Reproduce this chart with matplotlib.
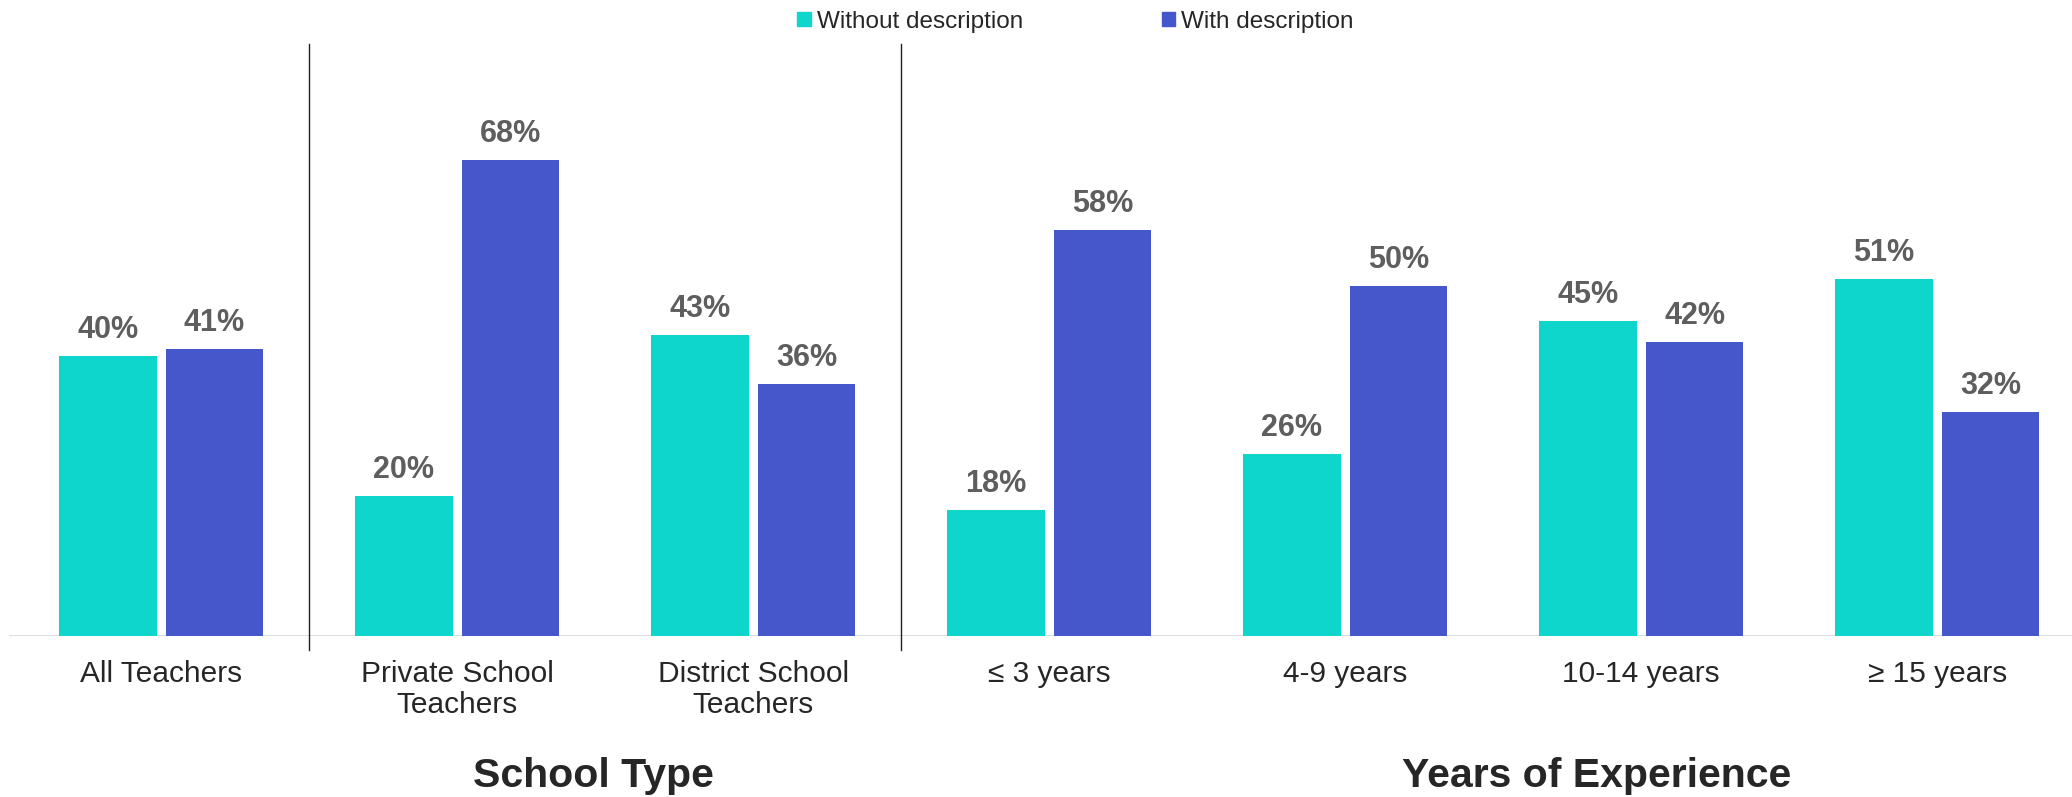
import matplotlib
matplotlib.use("Agg")
import numpy as np
import matplotlib.pyplot as plt
import matplotlib.transforms as mtransforms
from matplotlib.patches import Patch

plt.rcParams['font.family'] = ['Liberation Sans', 'DejaVu Sans']

# Data
categories = ["All Teachers", "Private School\nTeachers", "District School\nTeachers",
              "\u2264 3 years", "4-9 years", "10-14 years", "\u2265 15 years"]
without_desc = [40, 20, 43, 18, 26, 45, 51]
with_desc = [41, 68, 36, 58, 50, 42, 32]
series_names = ["Without description", "With description"]
section_titles = ["School Type", "Years of Experience"]

c_without = "#0ED6CC"
c_with = "#4657CC"
label_color = "#5E5E5E"
text_color = "#262626"

fig = plt.figure(figsize=(20.72, 7.97), dpi=100)
ax = fig.add_axes([0.0045, 0.202, 0.9955, 0.743])

x = np.arange(len(categories))
w = 0.33
off = 0.18
b1 = ax.bar(x - off, without_desc, w, color=c_without, zorder=2)
b2 = ax.bar(x + off, with_desc, w, color=c_with, zorder=2)

for bars, vals in ((b1, without_desc), (b2, with_desc)):
    for bar, v in zip(bars, vals):
        ax.annotate(f"{v}%", (bar.get_x() + bar.get_width() / 2, v),
                    xytext=(0, 13), textcoords="offset points",
                    ha="center", va="baseline", fontsize=22, fontweight="bold",
                    color=label_color)

ax.set_xlim(-0.513, 6.455)
ax.set_ylim(0, 84.6)
ax.axhline(0, color="#D9D9D9", lw=2.0, zorder=1)
for s in ax.spines.values():
    s.set_visible(False)
ax.set_yticks([])
ax.set_xticks(x)
ax.set_xticklabels(categories, fontsize=21.5, color=text_color, linespacing=1.1)
ax.tick_params(axis="x", length=0, pad=17.5)

# group separators
for sx in (0.5, 2.5):
    ax.plot([sx, sx], [-0.024, 1.0], color="#222222", lw=1.0,
            transform=ax.get_xaxis_transform(), clip_on=False)

# section titles
trans = mtransforms.blended_transform_factory(ax.transData, fig.transFigure)
ax.text(1.46, 0.012, section_titles[0], transform=trans, ha="center", va="baseline",
        fontsize=29.5, fontweight="bold", color=text_color)
ax.text(4.85, 0.012, section_titles[1], transform=trans, ha="center", va="baseline",
        fontsize=29.5, fontweight="bold", color=text_color)

handles = [Patch(color=c_without), Patch(color=c_with)]
fig.legend(handles, series_names, loc="upper center", bbox_to_anchor=(0.519, 1.014),
           ncol=2, frameon=False, fontsize=17.5, handlelength=0.55, handleheight=0.55,
           handletextpad=0.25, columnspacing=5.7, labelcolor=text_color)

fig.savefig("out.png", dpi=100)
